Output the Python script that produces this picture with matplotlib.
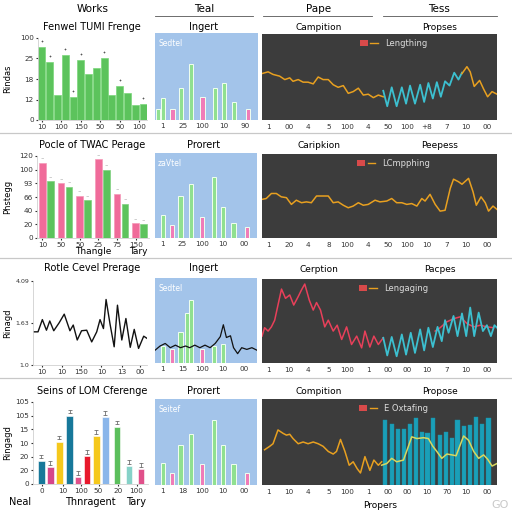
import matplotlib
matplotlib.use("Agg")
import matplotlib.pyplot as plt
from matplotlib.lines import Line2D
from matplotlib.patches import Patch
from matplotlib.legend_handler import HandlerTuple

# ---------------- data ----------------
# row 1, column 1: green bars
r1_bars = [89, 71, 31, 79, 28, 73, 56, 63, 76, 31, 42, 33, 18, 20]
r1_marks = [1, 1, 0, 1, 1, 1, 0, 0, 1, 0, 1, 0, 0, 1]
r1_xt = ['10', '100', '150', '50', '50', '100']
r1_yt = ['0', '12', '18', '25', '100']

# row 2, column 1: pink / green pairs
r2_pink = [110, 80, 62, 115, 65, 22]
r2_green = [83, 75, 55, 100, 50, 20]
r2_xt = ['10', '50', '50', '25', '75', '150']
r2_yt = ['0', '20', '40', '66', '93', '100', '120']

# row 3, column 1: black line
r3_x = [0, 4.4, 8.2, 11.8, 14.7, 18.2, 22.9, 27.4, 32.4, 35.3, 38.8, 42.6, 47.1, 51.5,
        55.9, 58.8, 61.8, 64.1, 67.6, 71.2, 74.1, 77.9, 81.5, 85.3, 88.8, 92.6, 97.1, 100]
r3_y = [2.22, 2.22, 2.67, 2.28, 2.62, 2.26, 2.55, 2.87, 2.26, 2.47, 1.92, 2.26, 2.28, 1.85,
        2.22, 2.67, 2.34, 3.41, 2.50, 1.67, 3.20, 1.92, 2.71, 1.65, 2.31, 1.61, 2.06, 1.98]
r3_xt = ['10', '10', '150', '10', '13', '00']
r3_yt = ['1.0', '1.63', '4.09']

# row 4, column 1: coloured bars
r4_pos = [0.72, 1.5, 2.3, 3.2, 3.9, 4.7, 5.5, 6.3, 7.3, 8.35, 9.4]
r4_vals = [34, 25, 62, 100, 10, 41, 70, 98, 84, 26, 22]
r4_cols = ['#17789a', '#d6458a', '#f5c81c', '#17789a', '#e0508a', '#e8192c',
           '#f5c81c', '#8ab6ea', '#5cbf5c', '#86d2c8', '#e0508a']
r4_xt = ['0', '10', '100', '50', '20', '100']
r4_yt = ['0', '20', '20', '10', '15', '105', '105']

# column 2: green / pink bars on blue
c2_pos = [0.3, 0.8, 1.7, 2.5, 3.2, 3.5, 4.6, 5.8, 6.7, 7.7, 9.0]
c2_kind = ['g', 'g', 'p', 'g', 'g', 'g', 'p', 'g', 'g', 'g', 'p']
c2_vals = [
    [13, 25, 13, 37, 0, 64, 26, 37, 42, 21, 13],
    [0, 27, 15, 49, 0, 63, 25, 72, 37, 18, 13],
    [0, 20, 17, 36, 59, 74, 17, 20, 22, 0, 0],
    [0, 26, 14, 47, 0, 59, 24, 76, 47, 25, 14],
]
c2_tag = ['Sedtel', 'zaVtel', 'Sedtel', 'Seitef']
c2_xt = [['1', '25', '100', '10', '90'], ['1', '25', '100', '10', '00'],
         ['1', '15', '100', '10', '00'], ['1', '18', '100', '10', '00']]
c2_line_x = [0, 0.5, 1, 1.5, 2, 2.5, 3, 3.4, 3.9, 4.4, 4.9, 5.4, 5.9, 6.4, 6.7, 7.0,
             7.4, 7.7, 8.1, 8.5, 9.0, 9.5, 10]
c2_line_y = [15, 20, 23, 18, 21, 18, 20, 18, 21, 18, 21, 18, 23, 31, 45, 30, 32, 18,
             11, 18, 16, 18, 15]

# column 3: dark panels
c3_xt = [['1', '00', '4', '5', '100', '4', '50', '100', '+8', '7', '10', '00'],
         ['1', '20', '4', '8', '100', '4', '50', '100', '10', '7', '10', '00'],
         ['1', '10', '4', '5', '100', '1', '00', '00', '10', '7', '10', '00'],
         ['1', '10', '4', '5', '100', '1', '00', '00', '10', '70', '10', '00']]
c3_leg = ['Lengthing', 'LCmpphing', 'Lengaging', 'E Oxtafing']

a1_x = [0, 2.6, 4.7, 7.5, 9.7, 11.8, 13.2, 15.4, 17.5, 19.6, 21.8, 23.9, 26, 28.2, 30.3,
        32.4, 34.6, 36.7, 38.8, 41, 43.1, 45.2, 47.4, 49.5, 51.6]
a1_y = [54, 56, 53, 51, 47, 49, 45, 47, 44, 44, 42, 50, 47, 47, 41, 38, 40, 31, 33, 37,
        29, 30, 26, 29, 27]
b1_x = [51.6, 53.3, 55.2, 57.3, 59.5, 61.3, 63, 65.1, 67.3, 69, 70.8, 72.7, 74.4, 76.1,
        77.9, 79.8, 81.8, 83.6, 85.1]
b1_y = [34, 16, 38, 16, 38, 19, 40, 19, 41, 21, 43, 25, 44, 27, 45, 40, 55, 47, 55]
d1_x = [85.1, 87.2, 88.6, 90.3, 92.6, 94.3, 96, 97.9, 100]
d1_y = [54, 62, 56, 39, 46, 36, 27, 33, 30]

a2_x = [0, 1.8, 4, 6.1, 8.2, 10.4, 12.5, 14.6, 16.8, 18.9, 21, 23.2, 25.3, 28.2, 30.3,
        32.4, 34.6, 36.7, 38.8, 41, 43.1, 45.2, 48.1, 50.2, 53.1, 55.2, 57.3, 59.5, 61.6,
        63.7, 65.9, 68, 69.4, 71.5, 73.7, 75.8, 77.9, 80.1, 81.5, 83.6, 85.1, 87.9, 89.8,
        91.2, 93.2, 95, 96.4, 98.3, 100]
a2_y = [46, 47, 53, 53, 49, 48, 40, 45, 42, 43, 42, 50, 50, 50, 42, 43, 39, 36, 38, 42,
        39, 40, 45, 43, 44, 47, 42, 42, 40, 41, 38, 47, 44, 52, 40, 32, 33, 59, 70, 67,
        64, 71, 55, 39, 49, 42, 32, 38, 34]

a3_x = [0, 1.1, 2.6, 4, 5.4, 6.8, 8.3, 10, 11.8, 13.5, 15.4, 16.8, 18.2, 20.1, 21.8,
        23.2, 24.9, 26.7, 28.2, 30.3, 32, 33.9, 36, 38.1, 40.3, 42.4, 43.8, 45.9, 47.6,
        49.5, 51.6]
a3_y = [32, 42, 38, 43, 51, 69, 88, 77, 81, 69, 79, 87, 94, 75, 63, 72, 63, 43, 51, 38,
        45, 28, 43, 22, 32, 18, 38, 19, 32, 22, 30]
b3_x = [51.6, 53.3, 55.2, 57.3, 59.5, 61.3, 63.3, 65.1, 67.3, 69, 70.8, 72.7, 74.7, 76.5,
        77.9, 79.4, 81.5, 83.2, 85.1, 86.9, 88.6, 90.3, 92.2, 94, 95.7, 97.4, 98.9, 100]
b3_y = [30, 9, 31, 8, 34, 10, 36, 12, 40, 15, 42, 19, 43, 26, 51, 36, 56, 32, 59, 32,
        66, 32, 60, 38, 45, 32, 45, 42]
d3_x = [73.7, 75.8, 78.6, 81.8, 84.4, 87.2, 90.1, 92.9, 95.7, 98.6]
d3_y = [38, 42, 49, 53, 55, 47, 43, 45, 43, 42]

a4_x = [1.1, 3.3, 4.7, 6.8, 9, 10.4, 11.8, 13.2, 15.4, 17.5, 19.6, 21.8, 23.9, 26, 28.2,
        30.3, 31.7, 33.4, 35.3, 37.1, 38.8, 40.5, 41.9, 43.8, 45.9, 47.6, 49.5, 50.9]
a4_y = [41, 45, 48, 64, 60, 58, 59, 54, 48, 50, 48, 50, 48, 45, 39, 36, 39, 53, 39, 23,
        27, 19, 14, 33, 17, 29, 23, 27]
b4_x = [50.9, 53.1, 55.2, 57.3, 60.2, 62.3, 63.7, 65.9, 68.7, 70.8, 72.7, 74.4, 76.5,
        78.7, 80.8, 82.6, 84.4, 85.8, 87.9, 90.1, 92.2, 94.3, 96, 97.9, 100]
b4_y = [23, 25, 31, 27, 29, 45, 56, 54, 55, 54, 45, 39, 31, 36, 35, 34, 47, 57, 52, 39,
        31, 35, 30, 22, 25]
bar4_x = [52.3, 55.2, 58, 60.5, 63, 65.6, 68, 70.4, 72.9, 75.8, 78.4, 80.8, 83.2, 86.1,
          88.6, 91.2, 93.6, 96.4]
bar4_y = [76, 71, 65, 65, 71, 78, 62, 60, 78, 58, 62, 55, 76, 69, 70, 79, 71, 78]

row_titles = ['Fenwel TUMI Frenge', 'Pocle of TWAC Perage', 'Rotle Cevel Prerage',
              'Seins of LOM Cferenge']
mid_titles = ['Ingert', 'Prorert', 'Ingert', 'Prorert']
left3 = ['Campition', 'Caripkion', 'Cerption', 'Compition']
right3 = ['Propses', 'Peepess', 'Pacpes', 'Propose']
ylabels = ['Rindas', 'Phstegg', 'Rinagd', 'Ringagd']

# ---------------- figure ----------------
W = 512.0
fig = plt.figure(figsize=(5.12, 5.12), dpi=100)
fig.patch.set_facecolor('white')


def box(x0, y0, x1, y1):
    return fig.add_axes([x0 / W, 1 - y1 / W, (x1 - x0) / W, (y1 - y0) / W])


def ftext(x, y, s, **kw):
    fig.text(x / W, 1 - y / W, s, ha='center', va='center', **kw)


def hline(x0, x1, y, color='#c8c8c8', lw=0.9):
    fig.add_artist(Line2D([x0 / W, x1 / W], [1 - y / W, 1 - y / W],
                          transform=fig.transFigure, color=color, lw=lw))


TICK = 5.2
GREEN = '#5cc35c'
PINK = '#f06b9a'
BLUE_BG = '#a3c4ea'
DARK = '#3c3c3c'
ORANGE = '#e8a020'
CYAN = '#3cc0d0'
RED = '#e8405a'


def style_col1(ax):
    for s in ['top', 'right']:
        ax.spines[s].set_visible(False)
    for s in ['left', 'bottom']:
        ax.spines[s].set_color('#d0d0d0')
        ax.spines[s].set_linewidth(0.6)
    ax.tick_params(labelsize=TICK, length=1.5, pad=1.5, colors='#333333')


# header
ftext(93, 9, 'Works', fontsize=7.5)
ftext(204, 9, 'Teal', fontsize=7.5)
ftext(319, 9, 'Pape', fontsize=7.5)
ftext(439, 9, 'Tess', fontsize=7.5)
hline(155, 253, 16, color='#555555', lw=0.6)
hline(263, 372, 16, color='#555555', lw=0.6)
hline(383, 497, 16, color='#555555', lw=0.6)

for y in [133, 258, 378]:
    hline(0, 512, y)

col1_boxes = [(38, 38, 147, 120), (37, 156, 149, 238), (33, 281, 147, 365), (33, 402, 148, 484)]
col2_boxes = [(155, 33, 258, 120), (155, 153, 257, 238), (155, 278, 257, 363), (155, 399, 257, 485)]
col3_boxes = [(262, 34, 497, 120), (262, 154, 497, 238), (262, 279, 497, 363), (262, 399, 497, 485)]
title_y = [27, 145, 268, 391]

# ---- column 1 ----
ax = box(*col1_boxes[0])
xs = list(range(len(r1_bars)))
ax.bar(xs, r1_bars, width=0.9, color=GREEN, edgecolor='#7ad67a', lw=0.5)
mx = [x for x, m in zip(xs, r1_marks) if m]
my = [v + 7 for v, m in zip(r1_bars, r1_marks) if m]
ax.plot(mx, my, ls='none', marker='+', ms=2, color='#555555', mew=0.5)
ax.set_xlim(-0.5, 13.5)
ax.set_ylim(0, 100)
ax.set_xticks([0, 2.5, 5, 7.5, 10, 12.5], r1_xt)
ax.set_yticks([0, 25, 50, 75, 100], r1_yt)
style_col1(ax)

ax = box(*col1_boxes[1])
gx = list(range(len(r2_pink)))
ax.bar([i - 0.21 for i in gx], r2_pink, width=0.36, color=PINK, edgecolor='#f59ab8', lw=0.5)
ax.bar([i + 0.21 for i in gx], r2_green, width=0.36, color=GREEN, edgecolor='#80d080', lw=0.5)
for i in gx:
    ax.text(i - 0.21, r2_pink[i] + 3, '~', fontsize=3, ha='center', color='#555555')
    ax.text(i + 0.21, r2_green[i] + 3, '~', fontsize=3, ha='center', color='#555555')
ax.set_xlim(-0.5, 5.5)
ax.set_ylim(0, 120)
ax.set_xticks([i - 0.21 for i in gx], r2_xt)
ax.set_yticks(range(0, 121, 20), r2_yt)
style_col1(ax)
ftext(93, 252, 'Thangle', fontsize=6.5)
ftext(138, 252, 'Tary', fontsize=6.5)

ax = box(*col1_boxes[2])
ax.plot(r3_x, r3_y, color='#111111', lw=1.0)
ax.set_xlim(0, 100)
ax.set_ylim(1.0, 4.09)
ax.set_xticks([8, 25, 42, 60, 78, 94], r3_xt)
ax.set_yticks([1.0, 2.55, 4.09], r3_yt)
style_col1(ax)
ax.tick_params(axis='y', labelsize=4.5, pad=1)

ax = box(*col1_boxes[3])
ax.bar(r4_pos, r4_vals, width=0.58, color=r4_cols, edgecolor='white', lw=0.4)
ax.errorbar(r4_pos, [v + 6 for v in r4_vals], yerr=2.5, fmt='none', ecolor='#555555',
            elinewidth=0.5, capsize=1.2, capthick=0.5)
ax.set_xlim(0, 10)
ax.set_ylim(0, 120)
ax.set_xticks([0.8, 2.6, 4.2, 5.7, 7.4, 9.0], r4_xt)
ax.set_yticks(range(0, 121, 20), r4_yt)
style_col1(ax)
ftext(20, 502, 'Neal', fontsize=7)
ftext(90, 502, 'Thnragent', fontsize=7)
ftext(136, 502, 'Tary', fontsize=7)

for r in range(4):
    x0, y0, x1, y1 = col1_boxes[r]
    ftext(92, title_y[r], row_titles[r], fontsize=7)
    fig.text(8 / W, 1 - ((y0 + y1) / 2) / W, ylabels[r], rotation=90, ha='center',
             va='center', fontsize=6)

# ---- column 2 ----
for r in range(4):
    ax = box(*col2_boxes[r])
    ax.set_facecolor(BLUE_BG)
    cols = ['#90e090' if k == 'g' else '#f07cb8' for k in c2_kind]
    ax.bar(c2_pos, c2_vals[r], width=0.42, color=cols, edgecolor='#f0fff0', lw=0.7)
    if r == 2:
        ax.plot(c2_line_x, c2_line_y, color='#111111', lw=0.9)
    ax.text(0.03, 0.93, c2_tag[r], transform=ax.transAxes, color='white', fontsize=5.5,
            va='top')
    ax.set_xlim(0, 10)
    ax.set_ylim(0, 100)
    ax.set_xticks([0.72, 2.7, 4.6, 6.66, 8.75], c2_xt[r])
    ax.set_yticks([])
    for s in ax.spines.values():
        s.set_visible(False)
    ax.tick_params(labelsize=TICK, length=0, pad=2.5, colors='#333333')
    ftext(204, title_y[r], mid_titles[r], fontsize=7)

# ---- column 3 ----
c3_ticks = [2.8, 11.5, 19.6, 28.4, 36.3, 45.2, 53.8, 61.6, 70.1, 78.7, 86.9, 95.7]
for r in range(4):
    ax = box(*col3_boxes[r])
    ax.set_facecolor(DARK)
    if r == 0:
        ax.plot(a1_x, a1_y, color=ORANGE, lw=1.1)
        ax.plot(b1_x, b1_y, color=CYAN, lw=1.3)
        ax.plot(d1_x, d1_y, color=ORANGE, lw=1.1)
    elif r == 1:
        ax.plot(a2_x, a2_y, color=ORANGE, lw=1.1)
    elif r == 2:
        ax.plot(a3_x, a3_y, color=RED, lw=1.1)
        ax.plot(d3_x, d3_y, color=RED, lw=1.1)
        ax.plot(b3_x, b3_y, color=CYAN, lw=1.3)
    else:
        ax.bar(bar4_x, bar4_y, width=1.8, color='#1a9fb8', edgecolor='#1890a8', lw=0.3)
        ax.plot(a4_x, a4_y, color=ORANGE, lw=1.1)
        ax.plot(b4_x, b4_y, color='#d8d860', lw=1.1)
    ax.set_xlim(0, 100)
    ax.set_ylim(0, 100)
    ax.set_xticks(c3_ticks, c3_xt[r])
    ax.set_yticks([])
    for s in ax.spines.values():
        s.set_visible(False)
    ax.tick_params(labelsize=TICK, length=0, pad=3, colors='#333333')
    handle = (Patch(facecolor='#d84a4a', edgecolor='none'), Line2D([], [], color=ORANGE, lw=1))
    leg = ax.legend([handle], [c3_leg[r]], handler_map={tuple: HandlerTuple(ndivide=None, pad=0.3)},
                    loc='upper center', bbox_to_anchor=(0.56, 1.03), frameon=False,
                    fontsize=6, labelcolor='#dddddd', handlelength=2.2, handleheight=0.6)
    ftext(319, title_y[r] + 1, left3[r], fontsize=6.5)
    ftext(440, title_y[r] + 1, right3[r], fontsize=6.5)

ftext(380, 505, 'Propers', fontsize=6.5)
ftext(500, 505, 'GO', fontsize=8, color='#c8c8c8')

fig.savefig('out.png', dpi=100)
